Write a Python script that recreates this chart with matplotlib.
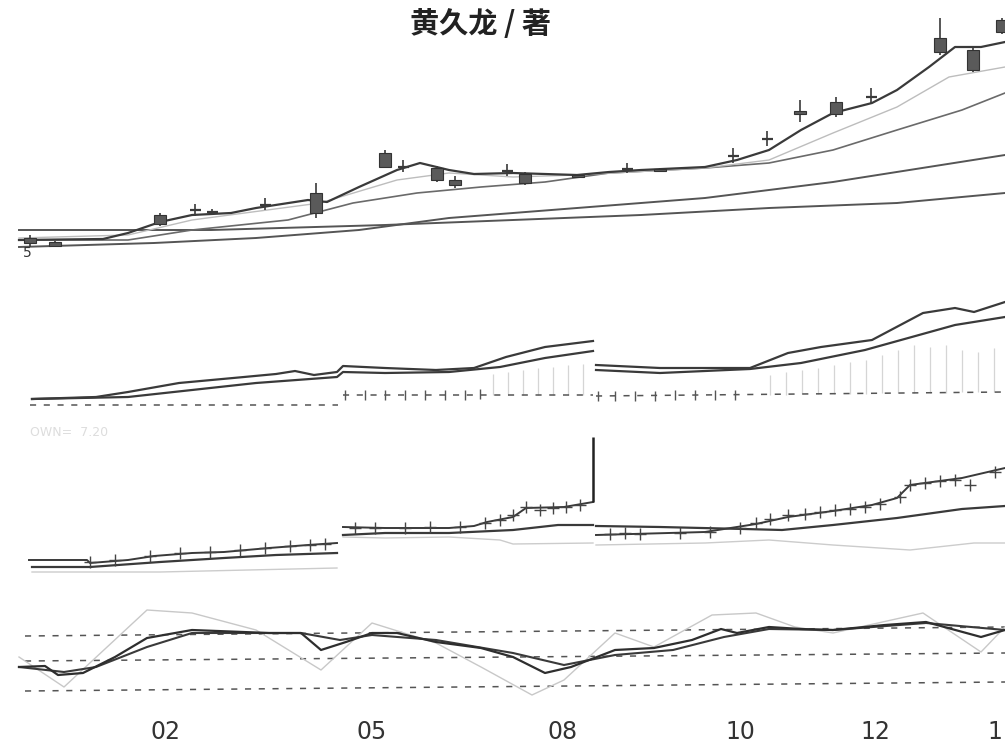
import numpy as np
import matplotlib
matplotlib.use("Agg")
import matplotlib.pyplot as plt

nan = np.nan

# ---------------- data ----------------
# Panel 1: candles (time, open, close, high, low)
c_t     = [3.0, 5.5, 16.0, 19.5, 21.2, 26.5, 31.6, 38.5, 40.3, 43.7, 45.5, 50.7, 52.5, 57.8, 62.7, 66.0, 73.3, 76.7, 80.0, 83.6, 87.1, 94.0, 97.3, 100.2]
c_open  = [1.9, 2.0, 4.7, 5.2, 5.0, 5.7, 6.9, 10.9, 9.5, 9.4, 8.2, 9.1, 8.8, 8.7, 9.3, 9.3, 10.6, 12.3, 15.1, 16.0, 16.5, 22.4, 21.2, 24.2]
c_close = [2.4, 1.6, 3.8, 5.2, 5.0, 5.7, 4.9, 9.5, 9.5, 8.2, 7.7, 9.1, 7.9, 8.5, 9.3, 9.1, 10.6, 12.3, 14.8, 14.8, 16.5, 21.0, 19.2, 23.0]
c_high  = [2.7, 2.1, 4.9, 5.8, 5.3, 6.4, 7.9, 11.2, 10.2, 9.6, 8.6, 9.8, 9.0, 8.8, 9.9, 9.4, 11.4, 13.1, 16.2, 16.5, 17.4, 24.4, 21.4, 24.4]
c_low   = [1.5, 1.5, 3.6, 4.6, 4.7, 5.2, 4.4, 9.4, 9.0, 8.0, 7.4, 8.6, 7.7, 8.4, 8.9, 9.0, 9.9, 11.6, 14.0, 14.5, 15.8, 20.7, 19.0, 22.8]

ma5_t = [1.9, 10.3, 12.8, 16.0, 19.2, 23.1, 25.6, 30.8, 32.7, 35.9, 39.7, 42.0, 44.9, 47.4, 51.3, 54.5, 57.7, 60.9, 64.1, 70.5, 73.7, 76.9, 80.1, 83.3, 87.2, 89.7, 92.9, 95.5, 98.1, 100.5]
ma5_v = [2.2, 2.3, 2.9, 4.0, 4.7, 4.9, 5.4, 6.2, 6.0, 7.5, 9.2, 9.9, 9.2, 8.8, 8.9, 8.8, 8.7, 9.0, 9.2, 9.5, 10.2, 11.2, 13.2, 14.9, 15.9, 17.2, 19.5, 21.5, 21.5, 22.0]
ma10_t = [1.9, 12.8, 19.2, 32.0, 39.7, 44.9, 51.3, 57.7, 70.5, 76.9, 83.3, 89.7, 94.9, 100.5]
ma10_v = [2.4, 2.7, 4.2, 5.9, 8.2, 8.9, 8.5, 8.7, 9.4, 10.2, 12.9, 15.5, 18.5, 19.5]
ma20_t = [1.9, 12.8, 19.2, 28.8, 35.3, 41.7, 48.1, 54.5, 60.9, 70.5, 76.9, 83.3, 89.7, 96.2, 100.5]
ma20_v = [2.2, 2.2, 3.2, 4.2, 5.9, 6.9, 7.5, 8.0, 8.9, 9.4, 9.9, 11.2, 13.2, 15.2, 16.9]
ma30_t = [1.9, 15.4, 25.6, 35.9, 44.9, 57.7, 70.5, 83.3, 100.5]
ma30_v = [1.5, 1.9, 2.4, 3.2, 4.4, 5.4, 6.4, 8.0, 10.7]
ma60_t = [1.9, 21.1, 38.5, 51.3, 64.1, 76.9, 89.7, 100.5]
ma60_v = [3.2, 3.2, 3.7, 4.2, 4.7, 5.4, 5.9, 6.9]

# Panel 2: two lines (segments separated by nan)
p2_t1 = [3.2, 9.6, 12.8, 17.9, 24.4, 27.6, 29.5, 31.4, 33.7, 34.3, 38.5, 43.6, 47.4, 50.6, 54.5, 59.3, nan,
         59.6, 66.0, 75.0, 78.8, 82.1, 87.2, 92.3, 95.5, 97.4, 100.5]
p2_v1 = [2.1, 2.3, 2.8, 3.7, 4.3, 4.6, 4.9, 4.5, 4.8, 5.4, 5.2, 5.0, 5.2, 6.3, 7.3, 7.9, nan,
         5.5, 5.2, 5.2, 6.7, 7.3, 8.0, 10.7, 11.2, 10.8, 11.8]
p2_t2 = [3.2, 12.8, 19.2, 25.6, 33.7, 34.3, 38.5, 44.9, 50.0, 54.5, 59.3, nan,
         59.6, 66.0, 75.0, 80.1, 86.5, 95.5, 100.5]
p2_v2 = [2.1, 2.3, 3.0, 3.7, 4.3, 4.8, 4.7, 4.8, 5.3, 6.2, 6.9, nan,
         5.0, 4.7, 5.1, 5.7, 7.0, 9.5, 10.3]
p2_base_t = [3.0, 33.8, nan, 34.3, 59.3, nan, 59.6, 100.5]
p2_base_v = [1.5, 1.5, nan, 2.5, 2.5, nan, 2.4, 2.8]
p2_tick_t = [34.5, 36.5, 38.5, 40.5, 42.5, 44.5, 46.5, 48.0, 59.8, 61.5, 63.5, 65.5, 67.5, 69.5, 71.5, 73.5]
p2_tick_v = [2.5, 2.5, 2.5, 2.5, 2.5, 2.5, 2.5, 2.6, 2.4, 2.4, 2.4, 2.4, 2.5, 2.5, 2.5, 2.5]
vol_t = [49.3, 50.8, 52.3, 53.8, 55.3, 56.8, 58.3,
         77.0, 78.6, 80.2, 81.8, 83.4, 85.0, 86.6, 88.2, 89.8, 91.4, 93.0, 94.6, 96.2, 97.8, 99.4]
vol_b = [2.5, 2.5, 2.5, 2.5, 2.5, 2.5, 2.5,
         2.5, 2.5, 2.6, 2.6, 2.6, 2.6, 2.6, 2.7, 2.7, 2.7, 2.7, 2.7, 2.8, 2.8, 2.8]
vol_top = [4.6, 4.8, 5.0, 5.2, 5.3, 5.5, 5.6,
           4.5, 4.8, 5.0, 5.2, 5.5, 5.8, 6.0, 6.5, 7.0, 7.5, 7.3, 7.5, 7.0, 6.8, 7.2]

# Panel 3
p3_t1 = [2.9, 8.7, 9.0, 12.8, 15.4, 19.2, 22.4, 26.9, 30.8, 33.7, nan,
         34.3, 38.5, 44.9, 47.4, 48.7, 51.3, 52.6, 56.4, 59.3, nan,
         59.6, 70.5, 75.6, 78.8, 83.3, 87.2, 89.7, 91.0, 96.2, 100.5]
p3_v1 = [2.0, 2.0, 1.7, 2.0, 2.4, 2.7, 2.8, 3.2, 3.5, 3.7, nan,
         5.3, 5.2, 5.2, 5.4, 5.8, 6.3, 7.2, 7.3, 7.8, nan,
         4.5, 4.8, 5.6, 6.3, 6.9, 7.5, 8.2, 9.5, 10.2, 11.2]
p3_t2 = [3.2, 9.0, 16.0, 22.4, 27.6, 33.7, nan,
         34.3, 38.5, 44.9, 51.3, 55.8, 59.3, nan,
         59.6, 66.0, 74.4, 78.2, 83.3, 89.7, 96.2, 100.5]
p3_v2 = [1.3, 1.3, 1.8, 2.2, 2.5, 2.7, nan,
         4.5, 4.7, 4.7, 5.0, 5.5, 5.5, nan,
         5.4, 5.3, 5.1, 5.0, 5.5, 6.2, 7.1, 7.4]
p3_t3 = [3.2, 16.0, 33.7, nan, 34.3, 38.5, 44.9, 50.0, 51.3, 59.3, nan,
         59.6, 70.5, 76.9, 83.3, 91.0, 97.4, 100.5]
p3_v3 = [0.8, 0.8, 1.2, nan, 4.3, 4.2, 4.3, 4.0, 3.6, 3.7, nan,
         3.5, 3.7, 4.0, 3.5, 3.0, 3.7, 3.7]
p3_spike_t = 59.3
p3_spike_lo, p3_spike_hi = 7.8, 14.3
p3_cross_t = [9.0, 11.5, 15.0, 18.0, 21.0, 24.0, 26.5, 29.0, 31.0, 32.5,
              35.5, 37.5, 40.5, 43.0, 46.0, 48.5, 50.0, 51.3, 52.6, 54.0, 55.3, 56.6, 58.0,
              61.0, 62.5, 64.0, 68.0, 71.0, 74.0, 75.6, 77.0, 78.8, 80.5, 82.0, 83.5, 85.0,
              86.5, 88.0, 90.0, 91.0, 92.5, 94.0, 95.5, 97.0, 99.5]
p3_cross_v = [1.8, 2.0, 2.4, 2.7, 2.8, 3.0, 3.2, 3.4, 3.5, 3.6,
              5.2, 5.2, 5.2, 5.3, 5.3, 5.7, 6.0, 6.5, 7.3, 7.0, 7.2, 7.3, 7.5,
              4.6, 4.7, 4.6, 4.7, 4.8, 5.2, 5.7, 6.1, 6.5, 6.6, 6.8, 7.0, 7.1,
              7.3, 7.6, 8.3, 9.5, 9.7, 9.9, 10.0, 9.5, 10.8]

# Panel 4: K, D, J
k_t = [1.9, 4.5, 5.8, 8.3, 11.5, 14.7, 19.2, 26.9, 30.1, 32.1, 34.6, 37.2, 39.7, 43.6, 48.1, 51.3, 54.5, 57.1,
       61.5, 65.4, 69.2, 72.1, 73.7, 76.9, 80.1, 83.3, 88.5, 92.6, 98.1, 100.5]
k_v = [4.3, 4.4, 3.5, 3.7, 5.3, 7.2, 8.0, 7.7, 7.7, 6.0, 6.8, 7.7, 7.7, 6.8, 6.2, 5.3, 3.7, 4.3,
       6.0, 6.2, 7.0, 8.1, 7.7, 8.3, 8.1, 8.0, 8.5, 8.8, 7.3, 8.0]
d_t = [1.9, 6.4, 9.6, 14.7, 19.2, 26.9, 30.1, 34.0, 37.2, 43.6, 51.3, 56.4, 61.5, 67.3, 72.4, 76.9, 83.3, 92.6, 100.5]
d_v = [4.3, 3.8, 4.3, 6.3, 7.7, 7.7, 7.7, 7.0, 7.5, 7.0, 5.7, 4.5, 5.5, 6.0, 7.3, 8.1, 8.0, 8.7, 8.0]
j_t = [1.9, 6.4, 14.7, 19.2, 25.6, 32.1, 37.2, 43.6, 48.1, 53.2, 56.4, 61.5, 65.4, 71.2, 75.6, 79.5, 83.3, 92.3, 98.1, 100.5]
j_v = [5.3, 2.3, 10.0, 9.7, 8.0, 4.0, 8.7, 6.7, 4.3, 1.5, 3.0, 7.7, 6.3, 9.5, 9.7, 8.3, 7.7, 9.7, 5.8, 8.3]
lvl_t = [2.5, 100.5]
lvl_top = [7.4, 8.3]
lvl_mid = [4.9, 5.7]
lvl_bot = [1.9, 2.8]

xtick_pos = [16.5, 37.2, 56.3, 74.0, 87.5, 99.5]
xtick_lab = ["02", "05", "08", "10", "12", "1"]

# ---------------- figure ----------------
W, H = 1005, 745
fig = plt.figure(figsize=(W / 100, H / 100), dpi=100)
fig.patch.set_facecolor("white")

DARK = "#3a3a3a"
GRAY = "#bdbdbd"
XMAX = 100.5


def mkax(top_px, bot_px, ymax):
    ax = fig.add_axes([0, (H - bot_px) / H, 1, (bot_px - top_px) / H])
    ax.set_xlim(0, XMAX)
    ax.set_ylim(0, ymax)
    ax.axis("off")
    return ax


ax1 = mkax(0, 262, 26.2)
ax2 = mkax(262, 420, 15.8)
ax3 = mkax(420, 580, 16.0)
ax4 = mkax(580, 710, 13.0)

# panel 1
ax1.plot(ma60_t, ma60_v, color="#555555", lw=1.4)
ax1.plot(ma30_t, ma30_v, color="#555555", lw=1.4)
ax1.plot(ma20_t, ma20_v, color="#6a6a6a", lw=1.2)
ax1.plot(ma10_t, ma10_v, color=GRAY, lw=1.0)
ax1.plot(ma5_t, ma5_v, color=DARK, lw=1.6)
for t, o, c, h, l in zip(c_t, c_open, c_close, c_high, c_low):
    ax1.vlines(t, l, h, color=DARK, lw=1.2, zorder=3)
    if abs(o - c) < 0.05:
        ax1.hlines(o, t - 0.55, t + 0.55, color=DARK, lw=1.6, zorder=4)
    else:
        ax1.bar(t, abs(o - c), bottom=min(o, c), width=1.2, color="#5a5a5a",
                edgecolor="#333333", lw=0.8, zorder=4)
ax1.text(2.3, 0.2, "5", fontsize=10, color="#333333", va="bottom", ha="left")

# panel 2
ax2.vlines(vol_t, vol_b, vol_top, color="#d5d5d5", lw=0.9)
ax2.plot(p2_base_t, p2_base_v, color="#555555", lw=1.1, ls=(0, (4, 5)))
ax2.plot(p2_tick_t, p2_tick_v, ls="none", marker="|", ms=7, mew=1.0, color="#555555")
ax2.plot(p2_t2, p2_v2, color=DARK, lw=1.6)
ax2.plot(p2_t1, p2_v1, color=DARK, lw=1.6)
ax2.text(3.0, -1.2, "OWN=  7.20", fontsize=9, color="#dddddd", va="center", ha="left")

# panel 3
ax3.plot(p3_t3, p3_v3, color="#cccccc", lw=1.0)
ax3.plot(p3_t2, p3_v2, color=DARK, lw=1.6)
ax3.plot(p3_t1, p3_v1, color=DARK, lw=1.4)
ax3.plot(p3_cross_t, p3_cross_v, ls="none", marker="+", ms=8, mew=1.0, color="#444444")
ax3.vlines(p3_spike_t, p3_spike_lo, p3_spike_hi, color="#222222", lw=1.8)
ax3.text(3.0, -1.2, "99.45", fontsize=9, color="#d5d5d5", va="center", ha="left")

# panel 4
for lv in (lvl_top, lvl_mid, lvl_bot):
    ax4.plot(lvl_t, lv, color="#555555", lw=1.1, ls=(0, (4, 5)))
ax4.plot(j_t, j_v, color="#c8c8c8", lw=1.0)
ax4.plot(d_t, d_v, color=DARK, lw=1.5)
ax4.plot(k_t, k_v, color="#2e2e2e", lw=1.6)

ax4.axis("on")
for s in ax4.spines.values():
    s.set_visible(False)
ax4.set_yticks([])
ax4.set_xticks(xtick_pos)
ax4.set_xticklabels(xtick_lab, fontsize=17, color="#333333",
                    family=["Liberation Sans Narrow", "DejaVu Sans"])
ax4.tick_params(axis="x", length=0, pad=7)

# title
fig.text(480 / W, 1 - 24 / H, "黄久龙 / 著", ha="center", va="center",
         fontsize=21, fontweight="bold", color="#222222",
         family=["Noto Sans CJK SC", "DejaVu Sans"])

fig.savefig("out.png", dpi=100, facecolor="white")
